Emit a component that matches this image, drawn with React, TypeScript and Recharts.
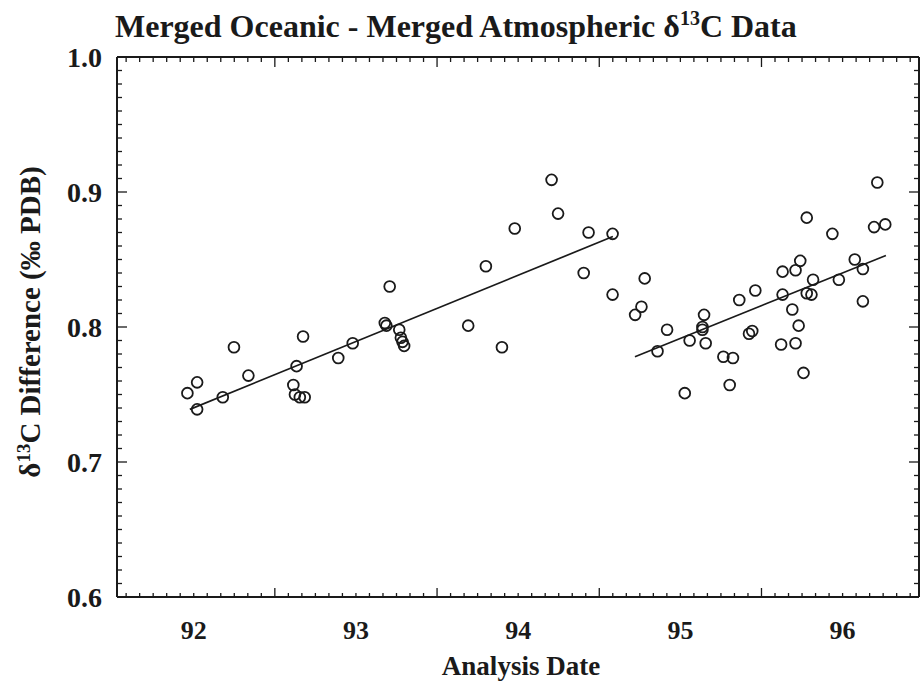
import React from 'react';
import { ScatterChart, Scatter, XAxis, YAxis } from 'recharts';

// analysis dates (decimal year, 92 = 1992) and δ13C differences
const earlyDates = [
  92.461, 92.521, 92.521, 92.679, 92.748, 92.837, 93.114, 93.124, 93.154, 93.184, 93.134, 93.174,
  93.391, 93.48, 93.678, 93.688, 93.708, 93.767, 93.777, 93.797, 93.787, 94.192, 94.301, 94.4,
  94.479, 94.706, 94.746, 94.904, 94.934, 95.082, 95.082,
];
const earlyDiffs = [
  0.751, 0.759, 0.739, 0.748, 0.785, 0.764, 0.757, 0.75, 0.748, 0.748, 0.771, 0.793,
  0.777, 0.788, 0.803, 0.801, 0.83, 0.798, 0.792, 0.786, 0.789, 0.801, 0.845, 0.785,
  0.873, 0.909, 0.884, 0.84, 0.87, 0.824, 0.869,
];
const lateDates = [
  95.221, 95.26, 95.28, 95.359, 95.418, 95.527, 95.557, 95.636, 95.636, 95.646, 95.656, 95.765,
  95.824, 95.804, 95.863, 95.923, 95.943, 95.962, 96.13, 96.121, 96.13, 96.19, 96.21, 96.239,
  96.229, 96.21, 96.259, 96.279, 96.279, 96.308, 96.318, 96.437, 96.477, 96.575, 96.625, 96.625,
  96.694, 96.763, 96.714,
];
const lateDiffs = [
  0.809, 0.815, 0.836, 0.782, 0.798, 0.751, 0.79, 0.798, 0.8, 0.809, 0.788, 0.778,
  0.777, 0.757, 0.82, 0.795, 0.797, 0.827, 0.824, 0.787, 0.841, 0.813, 0.842, 0.849,
  0.801, 0.788, 0.766, 0.881, 0.825, 0.824, 0.835, 0.869, 0.835, 0.85, 0.843, 0.819,
  0.874, 0.876, 0.907,
];
// fitted trend lines (end points)
const earlyFitDates = [92.476, 95.084];
const earlyFitDiffs = [0.739, 0.867];
const lateFitDates = [95.22, 96.767];
const lateFitDiffs = [0.778, 0.853];

const yearLabels = ['92', '93', '94', '95', '96'];
const diffLabels = ['0.6', '0.7', '0.8', '0.9', '1.0'];

const DATE_DOMAIN: [number, number] = [92.027, 96.971];
const DIFF_DOMAIN: [number, number] = [0.6, 1.0];

const INK = '#1a1a1a';
const FONT = '"Liberation Serif", "Times New Roman", serif';

const toPoints = (xs: number[], ys: number[]) => xs.map((t, i) => ({ t, v: ys[i] }));

const early = toPoints(earlyDates, earlyDiffs);
const late = toPoints(lateDates, lateDiffs);
const earlyFit = toPoints(earlyFitDates, earlyFitDiffs);
const lateFit = toPoints(lateFitDates, lateFitDiffs);

// monthly minor ticks, whole years are the long ones, labels sit mid-year
const monthTicks = Array.from({ length: 61 }, (_, i) => 92 + i / 12).filter(
  (t) => t > DATE_DOMAIN[0] && t < DATE_DOMAIN[1]
);
const diffTicks = Array.from({ length: 41 }, (_, i) => (60 + i) / 100);

const near = (a: number, b: number) => Math.abs(a - b) < 1e-6;

const BottomTick = (props: any) => {
  const { x, y, payload } = props;
  const v = payload.value;
  const whole = near(v, Math.round(v));
  const half = near(v - Math.floor(v), 0.5);
  return (
    <g>
      <line x1={x} x2={x} y1={y} y2={y - (whole ? 9 : 4)} stroke={INK} strokeWidth={1.3} />
      {half && (
        <text x={x} y={y + 42} textAnchor="middle" fill={INK} fontFamily={FONT} fontWeight="bold" fontSize={26}>
          {yearLabels[Math.floor(v) - 92]}
        </text>
      )}
    </g>
  );
};

const TopTick = (props: any) => {
  const { x, y, payload } = props;
  const whole = near(payload.value, Math.round(payload.value));
  return <line x1={x} x2={x} y1={y} y2={y + (whole ? 10 : 5)} stroke={INK} strokeWidth={1.3} />;
};

const LeftTick = (props: any) => {
  const { x, y, payload } = props;
  const idx = Math.round(payload.value * 100);
  const major = idx % 10 === 0;
  return (
    <g>
      <line x1={x} x2={x + (major ? 10 : 5)} y1={y} y2={y} stroke={INK} strokeWidth={1.3} />
      {major && (
        <text x={x - 15} y={y + 10} textAnchor="end" fill={INK} fontFamily={FONT} fontWeight="bold" fontSize={28}>
          {diffLabels[(idx - 60) / 10]}
        </text>
      )}
    </g>
  );
};

const RightTick = (props: any) => {
  const { x, y, payload } = props;
  const major = Math.round(payload.value * 100) % 10 === 0;
  return <line x1={x} x2={x - (major ? 10 : 5)} y1={y} y2={y} stroke={INK} strokeWidth={1.3} />;
};

const Ring = (props: any) => (
  <circle cx={props.cx} cy={props.cy} r={5.4} fill="none" stroke={INK} strokeWidth={1.8} />
);
const Nothing = () => <g />;

const axisLine = { stroke: INK, strokeWidth: 2 };

export default function App() {
  return (
    <div style={{ position: 'absolute', left: 0, top: 0, width: 923, height: 683, background: '#fff' }}>
      <ScatterChart width={923} height={683} margin={{ top: 0, right: 0, bottom: 0, left: 0 }}>
        <XAxis
          xAxisId="bottom"
          dataKey="t"
          type="number"
          domain={DATE_DOMAIN}
          ticks={monthTicks}
          interval={0}
          height={86}
          tickSize={0}
          tickMargin={0}
          axisLine={axisLine}
          tick={<BottomTick />}
          allowDataOverflow
        />
        <XAxis
          xAxisId="top"
          orientation="top"
          dataKey="t"
          type="number"
          domain={DATE_DOMAIN}
          ticks={monthTicks}
          interval={0}
          height={57}
          tickSize={0}
          tickMargin={0}
          axisLine={axisLine}
          tick={<TopTick />}
          allowDataOverflow
        />
        <YAxis
          yAxisId="left"
          dataKey="v"
          type="number"
          domain={DIFF_DOMAIN}
          ticks={diffTicks}
          interval={0}
          width={117}
          tickSize={0}
          tickMargin={0}
          axisLine={axisLine}
          tick={<LeftTick />}
          allowDataOverflow
        />
        <YAxis
          yAxisId="right"
          orientation="right"
          dataKey="v"
          type="number"
          domain={DIFF_DOMAIN}
          ticks={diffTicks}
          interval={0}
          width={4}
          tickSize={0}
          tickMargin={0}
          axisLine={axisLine}
          tick={<RightTick />}
          allowDataOverflow
        />
        <Scatter data={early} xAxisId="top" yAxisId="right" shape={<Nothing />} isAnimationActive={false} />
        <Scatter
          data={earlyFit}
          xAxisId="bottom"
          yAxisId="left"
          line={{ stroke: INK, strokeWidth: 1.7 }}
          shape={<Nothing />}
          isAnimationActive={false}
        />
        <Scatter
          data={lateFit}
          xAxisId="bottom"
          yAxisId="left"
          line={{ stroke: INK, strokeWidth: 1.7 }}
          shape={<Nothing />}
          isAnimationActive={false}
        />
        <Scatter data={early} xAxisId="bottom" yAxisId="left" shape={<Ring />} isAnimationActive={false} />
        <Scatter data={late} xAxisId="bottom" yAxisId="left" shape={<Ring />} isAnimationActive={false} />
      </ScatterChart>
      <svg
        width={923}
        height={683}
        style={{ position: 'absolute', left: 0, top: 0, pointerEvents: 'none' }}
        fontFamily={FONT}
        fontWeight="bold"
        fill={INK}
      >
        <text x={115} y={37} fontSize={32}>
          Merged Oceanic - Merged Atmospheric δ
          <tspan dy={-12} fontSize={20}>13</tspan>
          <tspan dy={12}>C Data</tspan>
        </text>
        <text x={521} y={675} fontSize={27} textAnchor="middle">
          Analysis Date
        </text>
        <text transform="translate(40 322) rotate(-90)" fontSize={29} textAnchor="middle">
          δ<tspan dy={-10} fontSize={19}>13</tspan>
          <tspan dy={10}>C Difference  (‰ PDB)</tspan>
        </text>
      </svg>
    </div>
  );
}
